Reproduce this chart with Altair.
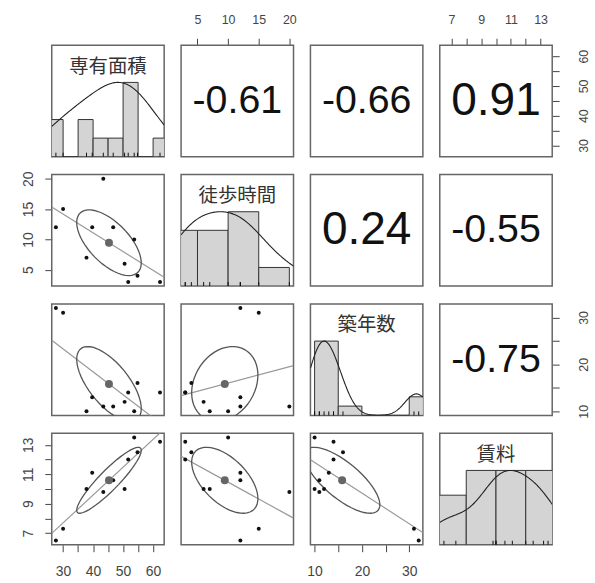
import json

import altair as alt
import numpy as np
import pandas as pd

# ---------------------------------------------------------------------------
# Data: 11 rental flats
# ---------------------------------------------------------------------------
labels = ["専有面積", "徒歩時間", "築年数", "賃料"]
fields = ["area", "walk", "age", "rent"]

area = [27.6, 30.0, 39.7, 37.8, 43.4, 46.7, 50.5, 51.7, 54.8, 53.7, 62.3]
walk = [12, 15, 12, 7, 20, 12, 6, 3, 4, 10, 3]
age = [32, 31, 13, 10, 11, 11, 12, 14, 16, 10, 14]
rent = [6.5, 7.3, 11.1, 10.0, 9.8, 10.6, 10.0, 12.0, 12.5, 13.5, 13.2]

# correlation coefficients shown in the upper triangle (row, column)
cor_cells = [(0, 1), (0, 2), (0, 3), (1, 2), (1, 3), (2, 3)]
cor_values = [-0.61, -0.66, 0.91, 0.24, -0.55, -0.75]

# histogram class boundaries
breaks_area = [25, 30, 35, 40, 45, 50, 55, 60, 65]
breaks_walk = [0, 5, 10, 15, 20]
breaks_age = [10, 15, 20, 25, 30, 35]
breaks_rent = [6, 8, 10, 12, 14]

# axis ticks and the ones that carry a label
ticks_area = [30, 35, 40, 45, 50, 55, 60]
ticks_walk = [5, 10, 15, 20]
ticks_age = [10, 15, 20, 25, 30]
ticks_rent = [7, 8, 9, 10, 11, 12, 13]

shown_area = [30, 40, 50, 60]
shown_walk = [5, 10, 15, 20]
shown_age = [10, 20, 30]
shown_rent = [7, 9, 11, 13]

# ---------------------------------------------------------------------------
data = {"area": area, "walk": walk, "age": age, "rent": rent}
breaks = {"area": breaks_area, "walk": breaks_walk, "age": breaks_age, "rent": breaks_rent}
ticks = {"area": ticks_area, "walk": ticks_walk, "age": ticks_age, "rent": ticks_rent}
shown = {"area": shown_area, "walk": shown_walk, "age": shown_age, "rent": shown_rent}
df = pd.DataFrame(data)

W, H = 113, 112
INK = "#111111"
AXIS_GREY = "#444444"
BORDER = "#666666"


def padded_range(vals):
    lo, hi = min(vals), max(vals)
    pad = 0.04 * (hi - lo)
    return [lo - pad, hi + pad]


domains = {f: padded_range(data[f]) for f in fields}


def scale(f):
    return alt.Scale(domain=domains[f], nice=False, zero=False)


def make_axis(f, orient):
    if orient is None:
        return None
    expr = "indexof(%s, datum.value) >= 0 ? datum.label : ''" % json.dumps(shown[f])
    opts = dict(
        orient=orient, values=ticks[f], labelExpr=expr, domain=False, grid=False,
        tickSize=7, tickWidth=1, tickColor=AXIS_GREY, labelColor=AXIS_GREY,
        labelFont="Liberation Sans", labelOverlap=False, labelFlush=False, title=None,
    )
    if orient == "top":
        opts.update(labelFontSize=12.5, labelPadding=12, labelAngle=0,
                    labelAlign="center", labelBaseline="bottom")
    elif orient == "bottom":
        opts.update(labelFontSize=14, labelPadding=13, labelAngle=0,
                    labelAlign="center", labelBaseline="top")
    elif orient == "left":
        opts.update(labelFontSize=14, labelPadding=9, labelAngle=270,
                    labelAlign="center", labelBaseline="bottom")
    else:
        opts.update(labelFontSize=12.5, labelPadding=18, labelAngle=270,
                    labelAlign="center", labelBaseline="top")
    return alt.Axis(**opts)


def x_orient(i, j):
    if i == 0 and j % 2 == 1:
        return "top"
    if i == 3 and j % 2 == 0:
        return "bottom"
    return None


def y_orient(i, j):
    if j == 0 and i % 2 == 1:
        return "left"
    if j == 3 and i % 2 == 0:
        return "right"
    return None


def border():
    return alt.Chart(pd.DataFrame({"b": [0]})).mark_rect(
        fillOpacity=0, stroke=BORDER, strokeWidth=1.5
    ).encode(x=alt.value(0), x2=alt.value(W), y=alt.value(0), y2=alt.value(H))


def hist_table(f):
    vals = pd.Series(data[f], dtype=float)
    cut = pd.cut(vals, bins=breaks[f], right=True, include_lowest=True)
    counts = cut.value_counts(sort=False).values.astype(float)
    return pd.DataFrame({"lo": breaks[f][:-1], "hi": breaks[f][1:], "h": counts / counts.max()})


def bw_nrd(f):
    v = np.asarray(data[f], float)
    q1, q3 = np.percentile(v, [25, 75])
    return 1.06 * min(v.std(ddof=1), (q3 - q1) / 1.34) * len(v) ** -0.2


def ellipse_table(fx, fy, segments=51):
    x = np.asarray(data[fx], float)
    y = np.asarray(data[fy], float)
    r = np.corrcoef(x, y)[0, 1]
    th = np.sign(r) / np.sqrt(2) if abs(r) > 0 else 1 / np.sqrt(2)
    a = np.arange(segments + 1) * 2 * np.pi / segments
    s1, s2 = np.sqrt(1 + r), np.sqrt(1 - r)
    e1 = np.cos(a) * s1 * th - np.sin(a) * s2 * th
    e2 = np.cos(a) * s1 * th + np.sin(a) * s2 * th
    return pd.DataFrame({
        fx: e1 * x.std(ddof=1) + x.mean(),
        fy: e2 * y.std(ddof=1) + y.mean(),
        "k": np.arange(segments + 1),
    })


def diag_panel(i):
    f = fields[i]
    sx = scale(f)
    sy = alt.Scale(domain=[0, 1.5], nice=False, zero=True)
    bars = alt.Chart(hist_table(f)).mark_rect(
        clip=True, fill="#d4d4d4", stroke="#333333", strokeWidth=1
    ).encode(
        x=alt.X("lo:Q", scale=sx, axis=None), x2="hi:Q",
        y=alt.Y("h:Q", scale=sy, axis=None), y2=alt.datum(0),
    )
    dens = alt.Chart(df).transform_density(
        f, as_=[f, "d"], bandwidth=1.2 * bw_nrd(f), extent=domains[f], steps=150
    ).transform_joinaggregate(m="max(d)").transform_calculate(
        dn="datum.d / datum.m"
    ).mark_line(clip=True, color="#222222", strokeWidth=1.1).encode(
        x=alt.X(f"{f}:Q", scale=sx, axis=None), y=alt.Y("dn:Q", scale=sy, axis=None)
    )
    rug = alt.Chart(df).mark_rule(color=INK, strokeWidth=1).encode(
        x=alt.X(f"{f}:Q", scale=sx, axis=None), y=alt.value(H), y2=alt.value(H - 4)
    )
    name = alt.Chart(pd.DataFrame({"name": [labels[i]]})).mark_text(
        font="Noto Sans CJK JP", fontSize=19.5, color="#333333", baseline="middle", align="center"
    ).encode(x=alt.value(W / 2), y=alt.value(21.5), text="name:N")
    return [border(), bars, dens, rug, name]


def scatter_panel(i, j):
    fx, fy = fields[j], fields[i]
    X = alt.X(f"{fx}:Q", scale=scale(fx), axis=make_axis(fx, x_orient(i, j)))
    Y = alt.Y(f"{fy}:Q", scale=scale(fy), axis=make_axis(fy, y_orient(i, j)))
    pts = alt.Chart(df).mark_circle(size=16, color=INK, opacity=1).encode(x=X, y=Y)
    reg = alt.Chart(df).transform_regression(
        fx, fy, extent=domains[fx]
    ).mark_line(clip=True, color="#999999", strokeWidth=1.2).encode(x=X, y=Y)
    ell = alt.Chart(ellipse_table(fx, fy)).mark_line(
        clip=True, color="#555555", strokeWidth=1.3
    ).encode(x=X, y=Y, order="k:Q")
    centre = alt.Chart(df).transform_aggregate(
        **{fx: f"mean({fx})", fy: f"mean({fy})"}
    ).mark_circle(size=64, color="#666666", opacity=1).encode(x=X, y=Y)
    return [border(), reg, ell, pts, centre]


def text_width_em(s):
    widths = {"-": 0.333, ".": 0.278}
    return sum(widths.get(c, 0.556) for c in s)


def cor_panel(i, j):
    fx, fy = fields[j], fields[i]
    X = alt.X(f"{fx}:Q", scale=scale(fx), axis=make_axis(fx, x_orient(i, j)))
    Y = alt.Y(f"{fy}:Q", scale=scale(fy), axis=make_axis(fy, y_orient(i, j)))
    anchor = alt.Chart(df).mark_point(opacity=0).encode(x=X, y=Y)
    value = cor_values[cor_cells.index((i, j))]
    txt = f"{value:.2f}"
    size = 90 / text_width_em(txt)
    label = alt.Chart(pd.DataFrame({"t": [txt]})).mark_text(
        font="Liberation Sans", fontSize=size, color=INK, align="center", baseline="middle"
    ).encode(x=alt.value(W / 2), y=alt.value(H / 2), text="t:N")
    return [border(), anchor, label]


def panel(i, j):
    if i == j:
        layers = diag_panel(i)
    elif i > j:
        layers = scatter_panel(i, j)
    else:
        layers = cor_panel(i, j)
    return alt.layer(*layers).properties(width=W, height=H)


cells = [panel(i, j) for i in range(4) for j in range(4)]

chart = alt.concat(
    *cells, columns=4, spacing={"row": 18, "column": 17}, bounds="flush"
).properties(
    padding={"left": 21, "top": 12, "right": 5, "bottom": 5}, background="white"
).configure_view(stroke=None)

chart.save("out.html", embed_options={"renderer": "svg", "actions": False})
